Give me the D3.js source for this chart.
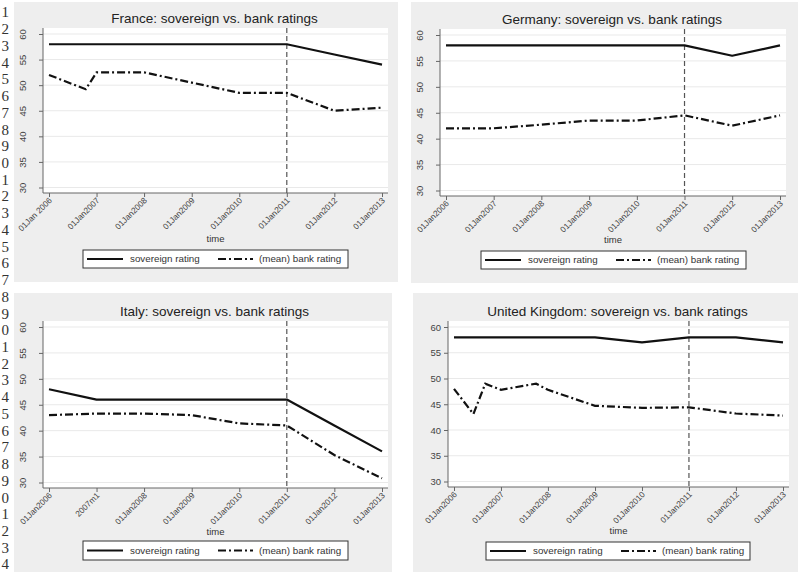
<!DOCTYPE html>
<html>
<head>
<meta charset="utf-8">
<script src="https://cdn.jsdelivr.net/npm/d3@7"></script>
<style>
  body { margin: 0; background: #fff; font-family: "Liberation Sans", Arial, sans-serif; }
  svg { display: block; }
</style>
</head>
<body>
<div id="chart"></div>
<script>
// ---- data ----
const years = ["2006-01-01", "2007-01-01", "2008-01-01", "2009-01-01",
               "2010-01-01", "2011-01-01", "2012-01-01", "2013-01-01"];
const yTicks = [30, 35, 40, 45, 50, 55, 60];
const breakDate = "2011-01-01";

const labelsFrance = ["01Jan 2006", "01Jan2007", "01Jan2008", "01Jan2009",
                      "01Jan2010", "01Jan2011", "01Jan2012", "01Jan2013"];
const labelsStd = ["01Jan2006", "01Jan2007", "01Jan2008", "01Jan2009",
                   "01Jan2010", "01Jan2011", "01Jan2012", "01Jan2013"];
const labelsItaly = ["01Jan2006", "2007m1", "01Jan2008", "01Jan2009",
                     "01Jan2010", "01Jan2011", "01Jan2012", "01Jan2013"];

const franceSov = [58, 58, 58, 58, 58, 58, 56, 54];
const franceBankDates = ["2006-01-01", "2006-10-10", "2007-01-01", "2008-01-01", "2009-01-01",
                         "2010-01-01", "2011-01-01", "2012-01-01", "2013-01-01"];
const franceBank = [52, 49.2, 52.5, 52.5, 50.5, 48.5, 48.5, 45, 45.6];

const germanySov = [58, 58, 58, 58, 58, 58, 56, 58];
const germanyBank = [42, 42, 42.7, 43.5, 43.5, 44.5, 42.5, 44.5];

const italySov = [48, 46, 46, 46, 46, 46, 41, 36];
const italyBank = [43, 43.3, 43.3, 43, 41.4, 41, 35.3, 30.8];

const ukSov = [58, 58, 58, 58, 57, 58, 58, 57];
const ukBankDates = ["2006-01-01", "2006-06-01", "2006-09-01", "2007-01-01", "2007-10-01",
                     "2008-01-01", "2009-01-01", "2010-01-01", "2011-01-01", "2012-01-01", "2013-01-01"];
const ukBank = [48, 43.1, 49, 47.8, 49, 47.8, 44.7, 44.3, 44.4, 43.2, 42.8];

const legendLabels = ["sovereign rating", "(mean) bank rating"];
const lineNumbers = [1, 2, 3, 4, 5, 6, 7, 8, 9, 0, 1, 2, 3, 4, 5, 6, 7,
                     8, 9, 0, 1, 2, 3, 4, 5, 6, 7, 8, 9, 0, 1, 2, 3, 4];

const parse = d3.timeParse("%Y-%m-%d");
const zip = (dates, vals) => dates.map((d, i) => ({ date: parse(d), value: vals[i] }));

// panel layout (page coordinates)
const panels = [
  { title: "France: sovereign vs. bank ratings", bg: [14, 2, 398, 282],
    plot: [43, 28, 388, 193], tickLabels: labelsFrance, vertY: true,
    sov: zip(years, franceSov), bank: zip(franceBankDates, franceBank),
    legend: [83, 250, 348, 268], timeY: 242 },
  { title: "Germany: sovereign vs. bank ratings", bg: [411, 2, 798, 283],
    plot: [440, 29, 786, 196], tickLabels: labelsStd, vertY: true,
    sov: zip(years, germanySov), bank: zip(years, germanyBank),
    legend: [481, 251, 746, 269], timeY: 243 },
  { title: "Italy: sovereign vs. bank ratings", bg: [14, 293, 392, 572],
    plot: [43, 321, 388, 488], tickLabels: labelsItaly, vertY: true,
    sov: zip(years, italySov), bank: zip(years, italyBank),
    legend: [83, 541, 348, 560], timeY: 535 },
  { title: "United Kingdom: sovereign vs. bank ratings", bg: [413, 293, 798, 572],
    plot: [448, 321, 789, 487], tickLabels: labelsStd, vertY: false,
    sov: zip(years, ukSov), bank: zip(ukBankDates, ukBank),
    legend: [486, 542, 750, 560], timeY: 534 }
];

const width = 798, height = 572;
const bankDash = "8,3,2,3";

const svg = d3.select("#chart").append("svg")
    .attr("width", width)
    .attr("height", height);

// cut-off line numbers at the page edge
svg.append("g").selectAll("text").data(lineNumbers)
  .enter().append("text")
    .attr("x", 9)
    .attr("y", (d, i) => 12 + i * 16.73)
    .attr("dy", "0.36em")
    .attr("text-anchor", "end")
    .style("font-family", "'Liberation Serif', serif")
    .style("font-size", "15px")
    .attr("fill", "#333")
    .text(d => d);

panels.forEach(function(p) {
    const [bx0, by0, bx1, by1] = p.bg;
    const [x0, y0, x1, y1] = p.plot;
    const g = svg.append("g");

    g.append("rect")
        .attr("x", bx0).attr("y", by0)
        .attr("width", bx1 - bx0).attr("height", by1 - by0)
        .attr("fill", "#eeeeee");

    g.append("rect")
        .attr("x", x0).attr("y", y0)
        .attr("width", x1 - x0).attr("height", y1 - y0)
        .attr("fill", "#fff");

    const x = d3.scaleTime()
        .domain([parse(years[0]), parse(years[years.length - 1])])
        .range([x0 + 6, x1 - 6]);
    const y = d3.scaleLinear()
        .domain([30, 60])
        .range([y1 - 5.5, y0 + 6]);

    // grid
    g.append("g").selectAll("line").data(yTicks)
      .enter().append("line")
        .attr("x1", x0).attr("x2", x1)
        .attr("y1", d => y(d)).attr("y2", d => y(d))
        .attr("stroke", "#e9e9e9")
        .attr("stroke-width", 1);

    // y axis
    const yAxisG = g.append("g")
        .attr("transform", `translate(${x0},0)`)
        .call(d3.axisLeft(y).tickValues(yTicks).tickSize(4).tickSizeOuter(0).tickPadding(3));
    yAxisG.select(".domain").remove();
    yAxisG.selectAll(".tick line").attr("stroke", "#666");
    yAxisG.selectAll(".tick text")
        .style("font-family", "'Liberation Sans', Arial, sans-serif")
        .style("font-size", "9.5px")
        .attr("fill", "#444");
    if (p.vertY) {
        yAxisG.selectAll(".tick text")
            .attr("x", 0).attr("dy", 0)
            .attr("transform", "translate(-17,0) rotate(-90)")
            .attr("text-anchor", "middle");
    }
    g.append("line")
        .attr("x1", x0).attr("x2", x0).attr("y1", y0).attr("y2", y1)
        .attr("stroke", "#666").attr("stroke-width", 1);

    // x axis
    const xAxisG = g.append("g")
        .attr("transform", `translate(0,${y1})`)
        .call(d3.axisBottom(x).tickValues(years.map(parse)).tickSize(4).tickSizeOuter(0)
              .tickFormat((d, i) => p.tickLabels[i]));
    xAxisG.select(".domain").remove();
    xAxisG.selectAll(".tick line").attr("stroke", "#666");
    xAxisG.selectAll(".tick text")
        .attr("y", 0).attr("dy", 0)
        .attr("transform", "translate(3,8) rotate(-45)")
        .attr("text-anchor", "end")
        .style("font-family", "'Liberation Sans', Arial, sans-serif")
        .style("font-size", "8.3px")
        .attr("fill", "#444");
    g.append("line")
        .attr("x1", x0).attr("x2", x1).attr("y1", y1).attr("y2", y1)
        .attr("stroke", "#666").attr("stroke-width", 1);

    // 2011 marker
    g.append("line")
        .attr("x1", x(parse(breakDate))).attr("x2", x(parse(breakDate)))
        .attr("y1", y0).attr("y2", y1)
        .attr("stroke", "#555").attr("stroke-width", 1.2)
        .attr("stroke-dasharray", "5,3");

    const line = d3.line().x(d => x(d.date)).y(d => y(d.value));

    g.append("path").datum(p.sov)
        .attr("d", line)
        .attr("fill", "none").attr("stroke", "#111").attr("stroke-width", 2.2)
        .attr("stroke-linejoin", "round");
    g.append("path").datum(p.bank)
        .attr("d", line)
        .attr("fill", "none").attr("stroke", "#111").attr("stroke-width", 2.2)
        .attr("stroke-dasharray", bankDash);

    // title
    g.append("text")
        .attr("x", (x0 + x1) / 2 - 1).attr("y", y0 - 5)
        .attr("text-anchor", "middle")
        .style("font-size", "13.5px")
        .attr("fill", "#222")
        .text(p.title);

    // axis title
    g.append("text")
        .attr("x", (x0 + x1) / 2).attr("y", p.timeY)
        .attr("text-anchor", "middle")
        .style("font-size", "9.5px")
        .attr("fill", "#333")
        .text("time");

    // legend
    const [lx0, ly0, lx1, ly1] = p.legend;
    const lg = g.append("g");
    lg.append("rect")
        .attr("x", lx0).attr("y", ly0)
        .attr("width", lx1 - lx0).attr("height", ly1 - ly0)
        .attr("fill", "#fff").attr("stroke", "#333").attr("stroke-width", 1);
    const ly = (ly0 + ly1) / 2;
    lg.append("line")
        .attr("x1", lx0 + 4).attr("x2", lx0 + 40).attr("y1", ly).attr("y2", ly)
        .attr("stroke", "#111").attr("stroke-width", 2.2);
    lg.append("line")
        .attr("x1", lx0 + 135).attr("x2", lx0 + 170).attr("y1", ly).attr("y2", ly)
        .attr("stroke", "#111").attr("stroke-width", 2.2)
        .attr("stroke-dasharray", bankDash);
    lg.selectAll("text.leg").data(legendLabels)
      .enter().append("text")
        .attr("class", "leg")
        .attr("x", (d, i) => lx0 + (i === 0 ? 47 : 176))
        .attr("y", ly).attr("dy", "0.35em")
        .style("font-size", "9.8px")
        .attr("fill", "#333")
        .text(d => d);
});
</script>
</body>
</html>
